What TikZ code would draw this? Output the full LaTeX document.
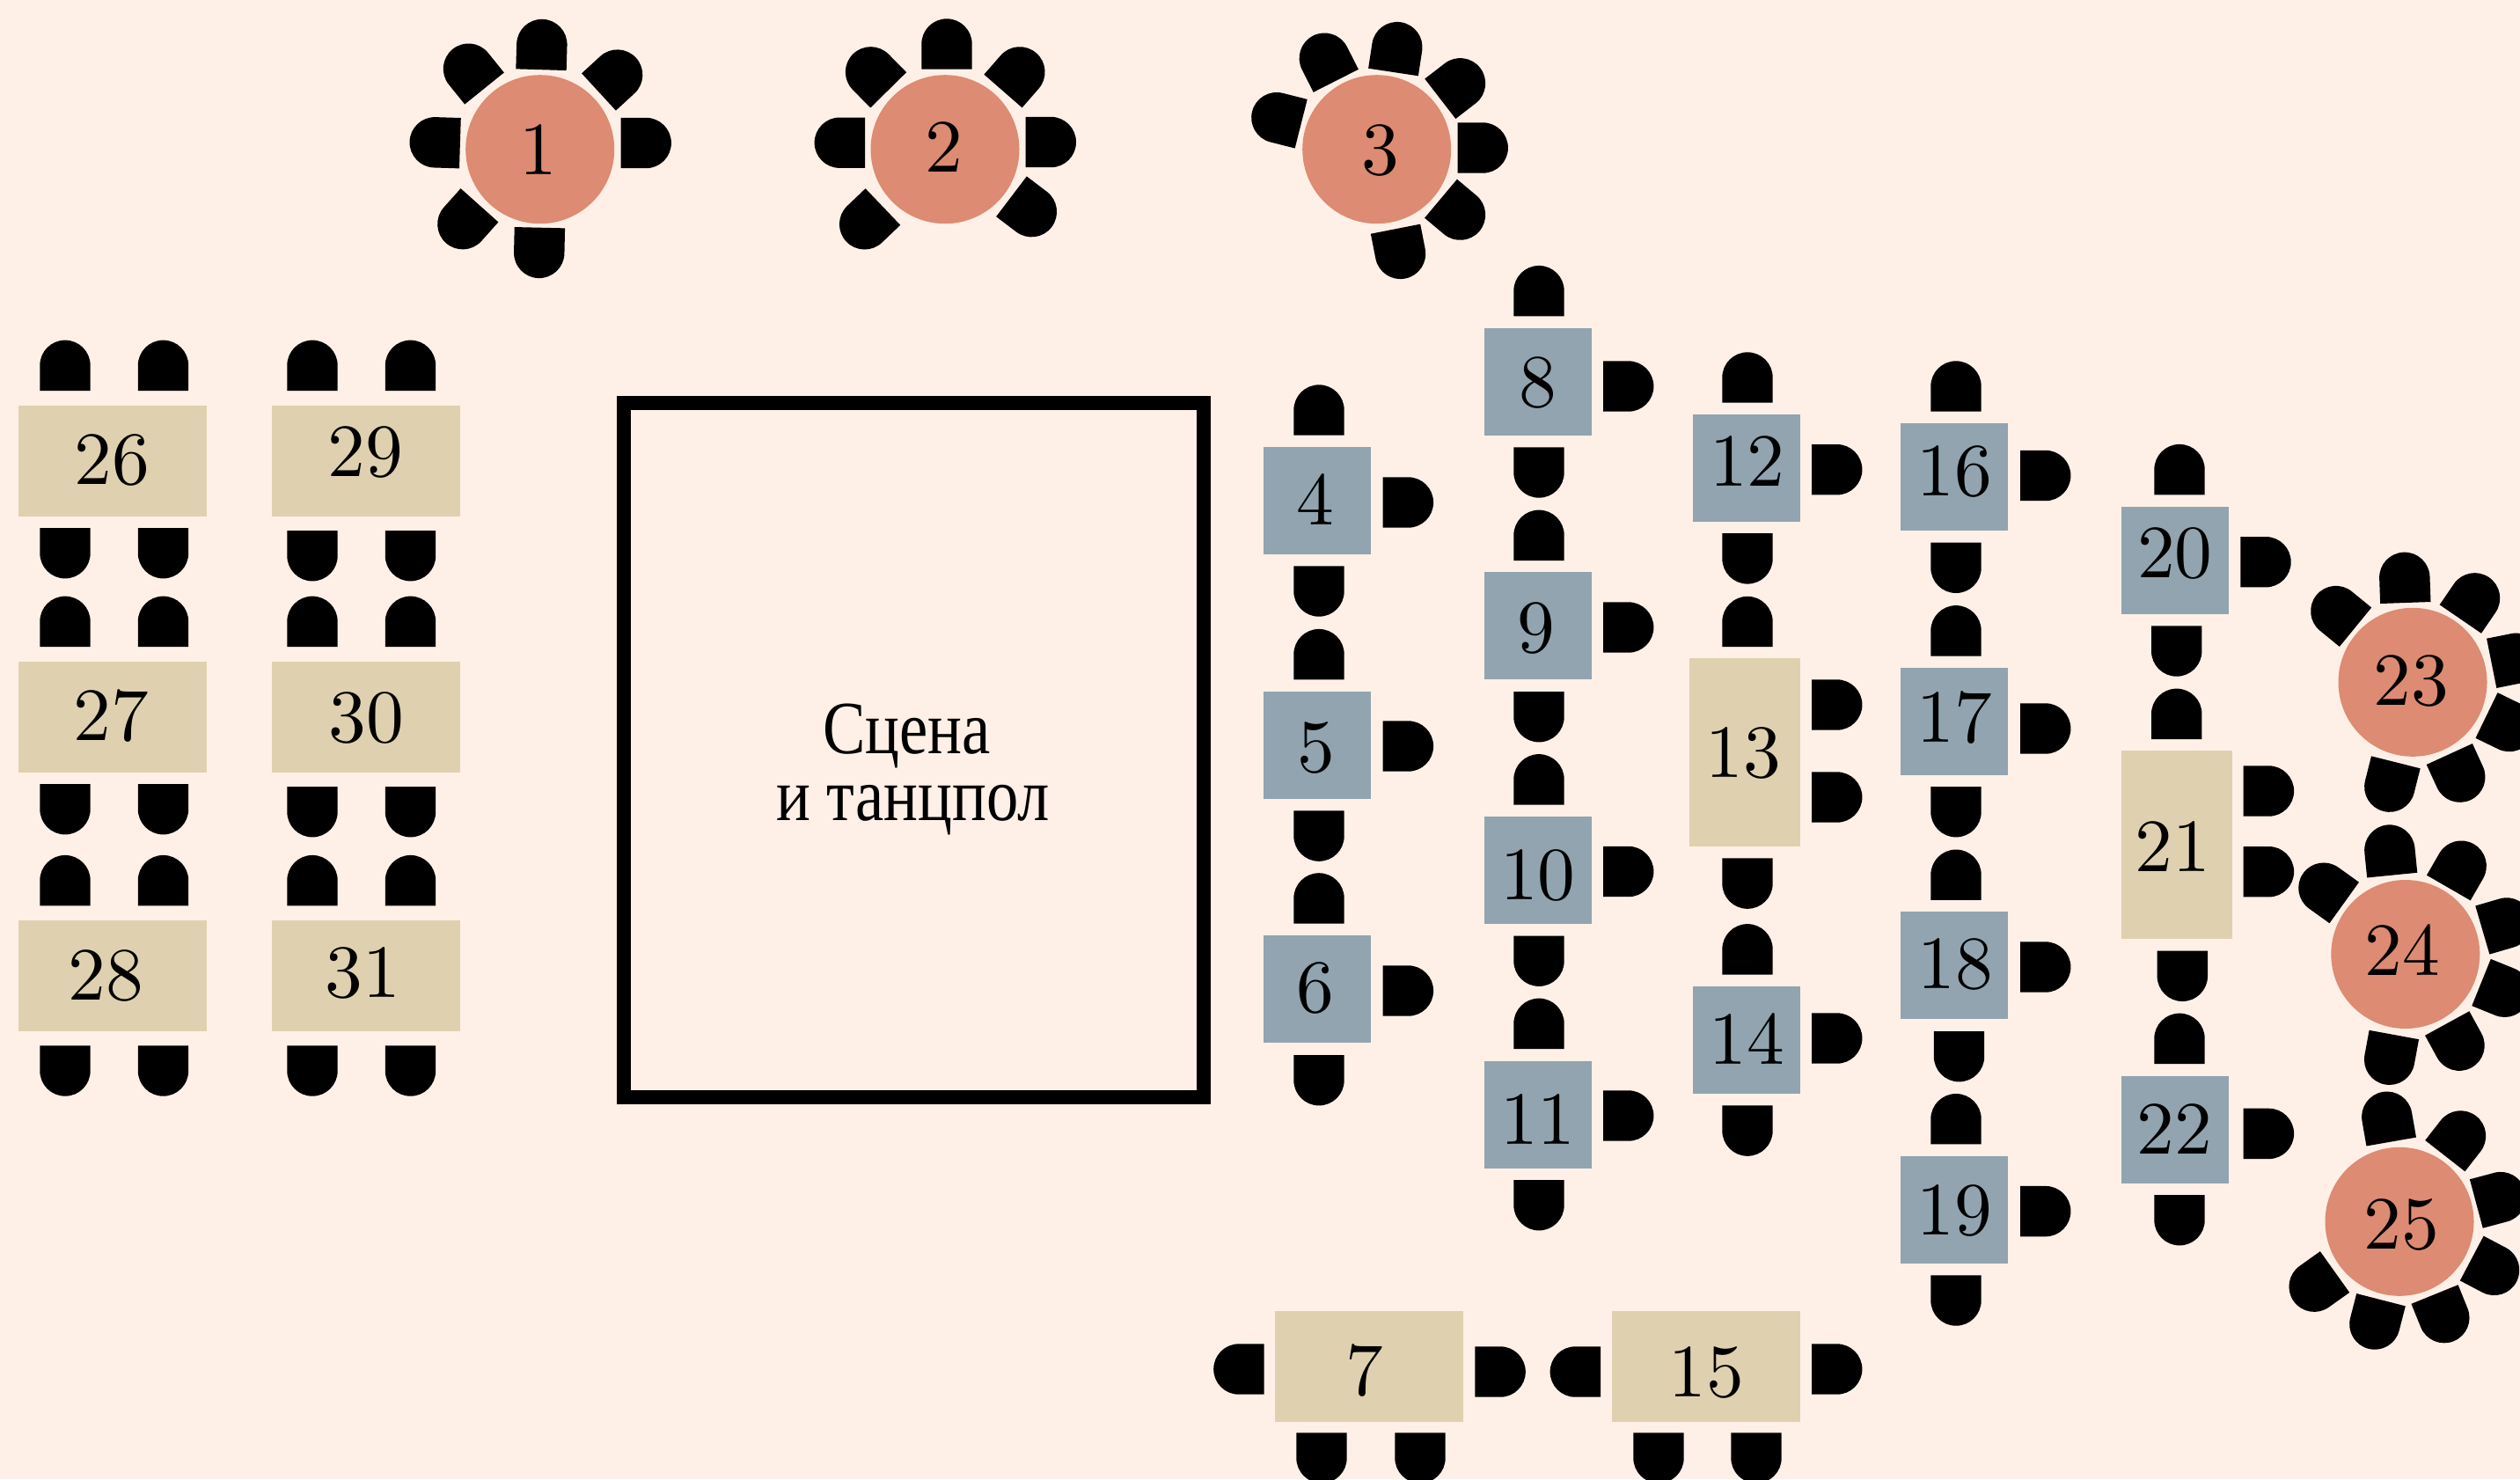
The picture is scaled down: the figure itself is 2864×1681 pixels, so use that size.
\documentclass[tikz,border=0pt]{standalone}
\usepackage{fontspec}
\newfontfamily\cyrserif{Liberation Serif}
\definecolor{bgcol}{HTML}{FEF0E7}
\definecolor{salmon}{HTML}{DD8B73}
\definecolor{slate}{HTML}{91A4B0}
\definecolor{sand}{HTML}{DFD1AF}
\tikzset{
  numtext/.style={inner sep=0pt,outer sep=0pt,text=black},
  flatbox/.style={rectangle,inner sep=0pt,outer sep=0pt},
  wide/.style={flatbox,fill=sand,minimum width=214*0.01cm,minimum height=126*0.01cm},
  tall/.style={flatbox,fill=sand,minimum width=126*0.01cm,minimum height=214*0.01cm},
  square/.style={flatbox,fill=slate,minimum width=122*0.01cm,minimum height=122*0.01cm},
  roundt/.style={circle,fill=salmon,inner sep=0pt,outer sep=0pt,minimum size=169*0.01cm},
  stagebox/.style={rectangle,draw=black,line width=0.16cm,inner sep=0pt,outer sep=0pt,minimum width=659*0.01cm,minimum height=789*0.01cm},
  stagetext/.style={inner sep=0pt,outer sep=0pt,align=center,font=\cyrserif\fontsize{24.3}{21.6}\selectfont}
}
% chair: flat edge midpoint (x,y), outward direction as a visual angle
\newcommand{\chair}[3]{%
  \begin{scope}[shift={(#1,#2)},rotate=#3,x=0.01cm,y=0.01cm]
    \fill[black] (0,-28.7) -- (28.7,-28.7) arc[start angle=-90,end angle=90,radius=28.7] -- (0,28.7) -- cycle;
  \end{scope}}
% table: name, style, centre x,y, label, label x,y
\newcommand{\tbl}[7]{%
  \node[#2] (t#1) at (#3,#4) {};
  \node[numtext] (n#1) at (#6,#7) {\scalebox{2.43}{\fontsize{10}{10}\selectfont #5}};}
\begin{document}
\begin{tikzpicture}[x=0.01cm,y=-0.01cm]
\fill[bgcol] (0,0) rectangle (2864,1681);
\useasboundingbox (0,0) rectangle (2864,1681);
\clip (0,0) rectangle (2864,1681);

% ---- chairs of left tables
\foreach \cx in {74,185.5,355,466.5} {\chair{\cx}{444}{90}\chair{\cx}{735}{90}\chair{\cx}{1029.3}{90}\chair{\cx}{1188.3}{270}}
\foreach \cx in {74,185.5} {\chair{\cx}{600}{270}\chair{\cx}{891}{270}}
\foreach \cx in {355,466.5} {\chair{\cx}{603}{270}\chair{\cx}{894}{270}}

% ---- column 4,5,6
\chair{1499}{494.7}{90}\chair{1571.7}{571}{0}\chair{1499}{643.3}{270}
\chair{1499}{772.3}{90}\chair{1571.7}{848}{0}\chair{1499}{921.4}{270}
\chair{1499}{1049.6}{90}\chair{1571.7}{1126}{0}\chair{1499}{1199}{270}
% ---- column 8-11
\chair{1749}{359.3}{90}\chair{1822}{439}{0}\chair{1749}{508.3}{270}
\chair{1749}{637}{90}\chair{1822}{713}{0}\chair{1749}{786}{270}
\chair{1749}{914.5}{90}\chair{1822}{990.5}{0}\chair{1749}{1063.5}{270}
\chair{1749}{1192}{90}\chair{1822}{1268}{0}\chair{1749}{1341}{270}
% ---- column 12-14
\chair{1986}{457.7}{90}\chair{2059}{533.7}{0}\chair{1986}{606.2}{270}
\chair{1986}{735.2}{90}\chair{2059}{801}{0}\chair{2059}{906}{0}\chair{1986}{975.4}{270}
\chair{1986}{1107.5}{90}\chair{2059}{1180}{0}\chair{1986}{1256.4}{270}
% ---- column 16-19
\chair{2223}{467.7}{90}\chair{2296}{540.5}{0}\chair{2223}{616.6}{270}
\chair{2223}{745.5}{90}\chair{2296}{828}{0}\chair{2223}{894}{270}
\chair{2223}{1022.9}{90}\chair{2296}{1099}{0}\chair{2226.5}{1172}{270}
\chair{2223}{1300.4}{90}\chair{2296}{1376.6}{0}\chair{2223}{1449.3}{270}
% ---- column 20-22
\chair{2477}{562.3}{90}\chair{2546.3}{638.7}{0}\chair{2473.7}{711.3}{270}
\chair{2473.7}{840}{90}\chair{2549.7}{899}{0}\chair{2549.7}{990.7}{0}\chair{2480.3}{1080.6}{270}
\chair{2477}{1209}{90}\chair{2549.7}{1288.4}{0}\chair{2477}{1358}{270}
% ---- bottom tables
\chair{1436.6}{1556}{180}\chair{1676.4}{1559}{0}\chair{1502}{1628.3}{270}\chair{1614}{1628.3}{270}
\chair{1819}{1559}{180}\chair{2059}{1556}{0}\chair{1885}{1628.3}{270}\chair{1996}{1628.3}{270}

% ---- round table 1
\chair{615}{79.2}{88.3}\chair{550.5}{100.5}{128.9}\chair{680.5}{104.5}{42.6}
\chair{522.9}{162.7}{178.2}\chair{705.5}{162.5}{0}\chair{545}{233.3}{228.2}\chair{613.4}{258.7}{268.7}
% ---- round table 2
\chair{1076}{78.7}{90}\chair{1009.7}{102.3}{134.6}\chair{1140}{103.5}{48.9}
\chair{983}{162.2}{180}\chair{1165.6}{161.5}{0}\chair{1003.4}{235}{223.7}\chair{1149.5}{223.3}{322.8}
% ---- round table 3
\chair{1583.5}{82}{81.4}\chair{1518.3}{91.8}{116.9}\chair{1478.7}{140.7}{165.8}
\chair{1636.8}{112.3}{37.7}\chair{1656.5}{168}{0}\chair{1637.5}{225.7}{320}\chair{1586}{260.2}{281.1}
% ---- round table 23
\chair{2733.8}{685}{92}\chair{2677}{712.7}{140.7}\chair{2796.3}{703.5}{55.6}
\chair{2831.7}{753.8}{11.3}\chair{2826}{813}{334.1}\chair{2783.8}{857}{294.6}\chair{2722.8}{866.3}{255.9}
% ---- round table 24
\chair{2718.7}{994.6}{95.7}\chair{2664.2}{1025.9}{144.3}\chair{2782.8}{1009}{60}
\chair{2821.3}{1057}{16.3}\chair{2820}{1116.5}{338}\chair{2781.2}{1163}{298.7}\chair{2720.8}{1176}{259.6}
% ---- round table 25
\chair{2717.7}{1297.5}{99.9}\chair{2778.8}{1313.6}{52}\chair{2814.3}{1368}{15}
\chair{2809.2}{1430}{332.2}\chair{2767}{1471}{292.1}\chair{2706}{1477.2}{255.6}\chair{2653.5}{1445.5}{215.5}

% ---- tables
\tbl{1}{roundt}{613.7}{169.7}{1}{611.6}{170.3}
\tbl{2}{roundt}{1074}{169.7}{2}{1073}{167}
\tbl{3}{roundt}{1564.7}{169.7}{3}{1569}{171}
\tbl{23}{roundt}{2742}{775.3}{23}{2740}{773.7}
\tbl{24}{roundt}{2733.8}{1084.5}{24}{2730}{1080}
\tbl{25}{roundt}{2727}{1388.3}{25}{2729.5}{1392}

\tbl{4}{square}{1497}{569}{4}{1495}{567.6}
\tbl{5}{square}{1497}{847}{5}{1495.7}{850}
\tbl{6}{square}{1497}{1124}{6}{1494.7}{1123}
\tbl{8}{square}{1748}{434}{8}{1748.3}{434.5}
\tbl{9}{square}{1748}{711}{9}{1745.5}{714}
\tbl{10}{square}{1748}{989}{10}{1747.8}{994.7}
\tbl{11}{square}{1748}{1267}{11}{1747.8}{1272}
\tbl{12}{square}{1985}{532}{12}{1985.8}{524.5}
\tbl{14}{square}{1985}{1182}{14}{1985}{1181}
\tbl{16}{square}{2221}{542}{16}{2221}{536}
\tbl{17}{square}{2221}{820}{17}{2221}{816}
\tbl{18}{square}{2221}{1097}{18}{2222}{1096}
\tbl{19}{square}{2221}{1375}{19}{2221}{1376}
\tbl{20}{square}{2472}{637}{20}{2471.7}{629}
\tbl{22}{square}{2472}{1284}{22}{2471}{1283}

\tbl{13}{tall}{1983}{855}{13}{1981}{856}
\tbl{21}{tall}{2474}{960}{21}{2469}{962}

\tbl{7}{wide}{1556}{1552.8}{7}{1551}{1558}
\tbl{15}{wide}{1939}{1552.8}{15}{1939.4}{1560}
\tbl{26}{wide}{128}{523.8}{26}{127}{522.5}
\tbl{27}{wide}{128}{815}{27}{126}{814}
\tbl{28}{wide}{128}{1109}{28}{120}{1109}
\tbl{29}{wide}{416}{523.8}{29}{415}{514}
\tbl{30}{wide}{416}{815}{30}{416}{816}
\tbl{31}{wide}{416}{1109}{31}{412.5}{1106}

% ---- stage
\node[stagebox] (stage) at (1038.5,852.5) {};
\node[stagetext] (stagelabel) at (1038,874) {\scalebox{0.85}[1]{Сцена\hspace{5pt}}\\\scalebox{0.85}[1]{и танцпол}};
\end{tikzpicture}
\end{document}
